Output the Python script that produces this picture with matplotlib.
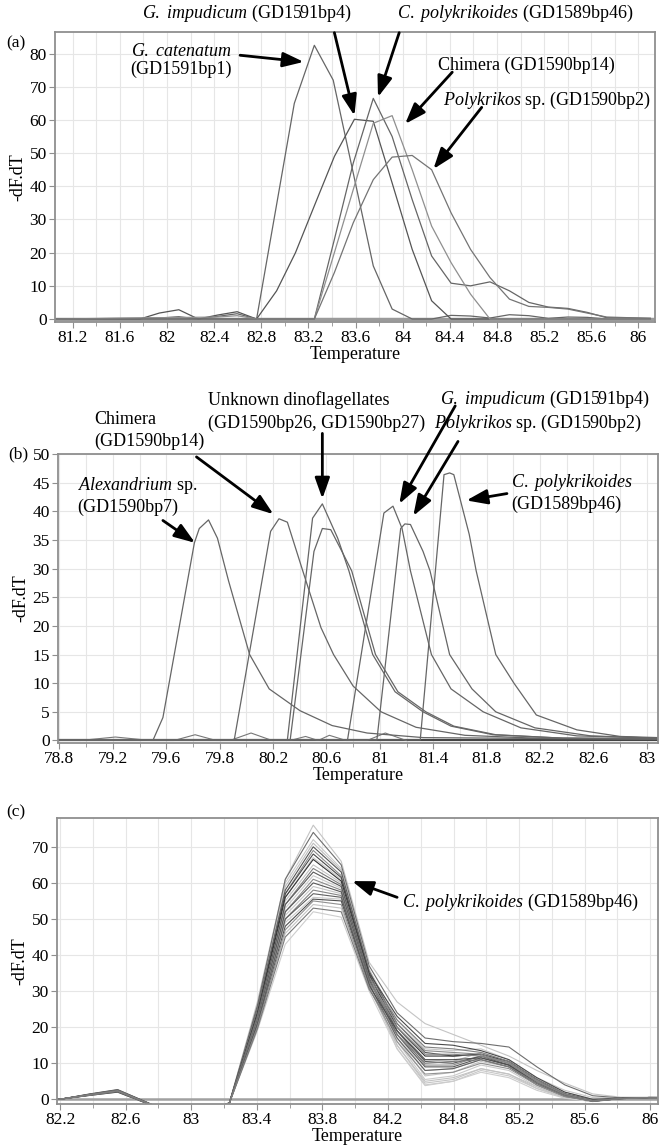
import numpy as np
import matplotlib
matplotlib.use('Agg')
import matplotlib.pyplot as plt

plt.rcParams['font.family'] = ['Liberation Serif', 'DejaVu Serif']
plt.rcParams['mathtext.fontset'] = 'custom'
plt.rcParams['mathtext.rm'] = 'Liberation Serif'
plt.rcParams['mathtext.it'] = 'Liberation Serif:italic'

# ---------------- panel (a) ----------------
a_xlabels = ['81.2', '81.6', '82', '82.4', '82.8', '83.2', '83.6', '84', '84.4', '84.8', '85.2', '85.6', '86']
a_yticks = [0, 10, 20, 30, 40, 50, 60, 70, 80]

a_gcat_t = [81.05, 82.76, 83.08, 83.25, 83.41, 83.58, 83.75, 83.91, 84.08, 84.245, 84.41, 84.575, 84.74, 84.905, 85.07, 85.235, 85.4, 85.565, 85.73, 86.1]
a_gcat_v = [0.1, 0.0, 65.0, 82.5, 72.0, 44.0, 16.0, 3.0, 0.0, 0.0, 1.1, 0.9, 0.3, 1.3, 1.0, 0.2, 0.6, 0.5, 0.0, 0.0]
a_gimp_t = [81.05, 81.77, 81.935, 82.1, 82.265, 82.43, 82.595, 82.76, 82.93, 83.09, 83.26, 83.42, 83.59, 83.75, 83.91, 84.08, 84.245, 84.41, 86.1]
a_gimp_v = [0.1, 0.0, 1.8, 2.8, 0.0, 1.2, 2.2, 0.0, 8.5, 20.0, 35.0, 49.0, 60.2, 59.6, 41.0, 21.0, 5.5, 0.0, 0.0]
a_cpol_t = [81.05, 81.935, 82.1, 82.265, 82.43, 82.595, 82.76, 83.25, 83.42, 83.58, 83.75, 83.91, 84.08, 84.245, 84.41, 84.575, 84.74, 84.905, 85.07, 85.235, 85.4, 85.565, 85.73, 86.1]
a_cpol_v = [0.0, 0.3, 0.7, 0.0, 0.8, 1.6, 0.0, 0.0, 24.0, 47.0, 66.5, 55.0, 36.0, 19.0, 10.8, 10.0, 11.2, 8.5, 5.0, 3.6, 3.2, 2.0, 0.4, 0.2]
a_chim_t = [81.05, 82.43, 82.595, 82.76, 83.25, 83.42, 83.58, 83.75, 83.91, 84.08, 84.245, 84.41, 84.575, 84.74, 86.1]
a_chim_v = [0.0, 0.6, 1.0, 0.0, 0.0, 20.0, 39.0, 59.0, 61.3, 45.0, 28.0, 17.0, 7.5, 0.0, 0.0]
a_poly_t = [81.05, 83.25, 83.42, 83.58, 83.75, 83.91, 84.08, 84.245, 84.41, 84.575, 84.74, 84.905, 85.07, 85.235, 85.4, 85.565, 85.73, 86.1]
a_poly_v = [0.0, 0.0, 14.0, 29.0, 42.0, 48.8, 49.3, 45.0, 32.0, 21.0, 12.5, 6.0, 3.8, 3.5, 3.0, 1.8, 0.6, 0.2]

# ---------------- panel (b) ----------------
b_xlabels = ['78.8', '79.2', '79.6', '79.8', '80.2', '80.6', '81', '81.4', '81.8', '82.2', '82.6', '83']
b_yticks = [0, 5, 10, 15, 20, 25, 30, 35, 40, 45, 50]

b_alex_t = [78.8, 79.47, 79.54, 79.765, 79.80, 79.866, 79.93, 80.01, 80.16, 80.30, 80.52, 80.75, 81.0, 81.4, 83.08]
b_alex_v = [0.1, 0.1, 4.0, 34.5, 37.0, 38.5, 35.3, 27.8, 15.0, 9.0, 5.2, 2.6, 1.3, 0.5, 0.2]
b_chim_t = [78.8, 80.05, 80.31, 80.37, 80.43, 80.54, 80.67, 80.76, 80.90, 81.10, 81.35, 81.70, 82.2, 83.08]
b_chim_v = [0.1, 0.1, 36.5, 38.7, 38.1, 29.6, 19.7, 15.0, 9.5, 5.0, 2.3, 0.9, 0.4, 0.3]
b_unk1_t = [78.8, 80.43, 80.61, 80.68, 80.79, 80.87, 81.04, 81.2, 81.4, 81.6, 81.9, 82.4, 83.08]
b_unk1_v = [0.1, 0.1, 38.8, 41.3, 35.3, 29.6, 15.0, 8.5, 5.0, 2.5, 1.0, 0.4, 0.3]
b_unk2_t = [78.8, 80.45, 80.62, 80.68, 80.74, 80.82, 80.89, 81.06, 81.22, 81.42, 81.62, 81.92, 82.4, 83.08]
b_unk2_v = [0.1, 0.1, 33.0, 37.0, 36.8, 33.0, 29.6, 15.0, 8.5, 5.0, 2.5, 1.0, 0.4, 0.3]
b_gimp_t = [78.8, 80.86, 81.12, 81.185, 81.25, 81.31, 81.46, 81.6, 81.83, 82.1, 82.5, 83.08]
b_gimp_v = [0.1, 0.1, 39.7, 40.9, 37.0, 29.6, 15.0, 9.0, 5.0, 2.2, 0.8, 0.4]
b_poly_t = [78.8, 81.07, 81.24, 81.27, 81.31, 81.40, 81.45, 81.59, 81.75, 81.92, 82.2, 82.6, 83.08]
b_poly_v = [0.1, 0.1, 37.0, 37.8, 37.7, 33.0, 29.6, 15.0, 9.0, 5.0, 2.2, 0.8, 0.4]
b_cpol_t = [78.8, 81.38, 81.55, 81.59, 81.62, 81.73, 81.78, 81.92, 82.05, 82.21, 82.5, 82.81, 83.08]
b_cpol_v = [0.1, 0.1, 46.4, 46.7, 46.4, 36.0, 29.6, 15.0, 10.0, 4.45, 1.85, 0.7, 0.5]
# small bumps on the baseline
b_bump_t = [78.95, 79.2, 79.45, 79.62, 79.77, 79.92, 80.02, 80.17, 80.32, 80.45, 80.56, 80.65, 80.73, 80.85, 81.0, 81.13, 81.28]
b_bump_v = [0.0, 0.6, 0.0, 0.0, 1.0, 0.0, 0.0, 1.3, 0.0, 0.0, 0.7, 0.0, 0.9, 0.0, 0.0, 1.3, 0.0]

# ---------------- panel (c) ----------------
c_xlabels = ['82.2', '82.6', '83', '83.4', '83.8', '84.2', '84.8', '85.2', '85.6', '86']
c_yticks = [0, 10, 20, 30, 40, 50, 60, 70]

c_temps = [82.18, 82.21, 82.39, 82.57, 82.93, 83.11, 83.29, 83.47, 83.65, 83.83, 84.01, 84.19,
           84.37, 84.55, 84.73, 84.91, 85.09, 85.27, 85.45, 85.63, 85.81, 85.99, 86.06]
v8218 = [0.0] * 24
v8221 = [0.1] * 24
v8239 = [1.3, 1.2, 1.4, 1.1, 1.3, 1.2, 1.5, 1.2, 1.3, 1.1, 1.4, 1.2, 1.3, 1.2, 1.4, 1.1, 1.3, 1.2, 1.3, 1.1, 1.2, 1.3, 1.2, 1.1]
v8257 = [2.4, 2.2, 2.6, 2.1, 2.5, 2.3, 2.7, 2.2, 2.4, 2.0, 2.6, 2.3, 2.4, 2.2, 2.5, 2.1, 2.4, 2.3, 2.5, 2.0, 2.3, 2.4, 2.2, 2.1]
v8293 = [-4.0] * 24
v8311 = [-4.0] * 24
v8329 = [-1.0] * 24
v8347 = [27, 26, 26, 25, 25, 24.5, 24, 24, 23.5, 23.5, 23, 23, 22.5, 22.5, 22, 22, 21.5, 21, 21, 20.5, 20, 20, 19.5, 19]
v8365 = [61, 61, 60, 59, 58, 57, 57, 56, 56, 55, 54, 54, 53, 52, 52, 51, 50, 50, 49, 48, 47, 46, 45, 43]
v8383 = [76, 74, 72, 71, 70, 69, 68, 67, 66.5, 65, 64, 63, 62, 61, 60, 59, 58, 57, 56, 55.5, 55, 54, 53, 52]
v8401 = [66, 65, 64, 63.5, 63, 62, 61.5, 61, 60.5, 60, 59.5, 59, 58.5, 58, 57.5, 57, 56.5, 56, 55.5, 55, 54, 53, 52, 50.5]
v8419 = [38, 37, 36, 36, 35.5, 35, 35, 34.5, 34.5, 34, 34, 33.5, 33.5, 33, 33, 32.5, 32.5, 32, 32, 31.5, 31, 31, 30.5, 30]
v8437 = [27, 24, 22, 20, 21, 19, 23, 18, 20, 17, 22, 19, 16, 21, 18, 15, 20, 17, 14, 19, 16, 15, 18, 14]
v8455 = [21, 17, 14, 11, 13, 9.5, 15.5, 8, 12, 6.5, 14.5, 10.5, 5.5, 13.5, 9, 4.5, 12.5, 8, 4, 11, 7, 5, 10, 3.8]
v8473 = [18, 16, 13.5, 10.5, 12, 9.5, 15, 8.5, 12, 7.5, 14, 10, 6.5, 13, 9, 5.5, 12.5, 8.5, 5, 11, 7.5, 6, 10.5, 5]
v8491 = [15, 15.5, 14, 13, 12.5, 12, 13.5, 11, 12.5, 10.5, 13, 12, 9.5, 12.5, 11.5, 8.5, 12, 11, 8, 11.5, 10, 8.5, 11, 7.5]
v8509 = [12, 14.5, 11, 10.5, 10, 10, 11, 9, 10.5, 9, 10.5, 9.5, 8, 10, 9.5, 7, 10, 9, 6.5, 9.5, 8.5, 7, 9, 6]
v8527 = [8, 9, 6, 5.5, 5, 5, 6, 4.5, 5.5, 4, 5.5, 4.5, 3.5, 5, 4.5, 3, 5, 4, 3, 4.5, 4, 3.5, 4.5, 2.5]
v8545 = [4.5, 4, 2.5, 2, 1.5, 1.5, 2, 1, 1.5, 0.8, 1.5, 1, 0.5, 1.2, 1, 0.5, 1.2, 0.8, 0.5, 1, 0.8, 0.5, 1, 0.3]
v8563 = [1.5, 1, 0.5, 0, -0.3, -0.3, 0, -0.5, -0.3, -0.5, -0.3, -0.5, -0.6, -0.4, -0.5, -0.6, -0.4, -0.5, -0.6, -0.5, -0.5, -0.6, -0.5, -0.6]
v8581 = [0.6, 0.4, 0.3, 0.2, 0.2, 0.2, 0.3, 0.2, 0.3, 0.2, 0.3, 0.2, 0.2, 0.2, 0.2, 0.2, 0.2, 0.2, 0.2, 0.2, 0.2, 0.2, 0.2, 0.2]
v8599 = [0.6, 0.5, 0.5, 0.5, 0.5, 0.5, 0.5, 0.5, 0.5, 0.5, 0.5, 0.5, 0.5, 0.5, 0.5, 0.5, 0.5, 0.5, 0.5, 0.5, 0.5, 0.5, 0.5, 0.5]
v8606 = [0.5] * 24

c_columns = [v8218, v8221, v8239, v8257, v8293, v8311, v8329, v8347, v8365, v8383, v8401, v8419,
             v8437, v8455, v8473, v8491, v8509, v8527, v8545, v8563, v8581, v8599, v8606]
c_shades = ['#c4c4c4', '#6e6e6e', '#c8c8c8', '#bdbdbd', '#555555', '#8c8c8c', '#4a4a4a', '#c6c6c6',
            '#333333', '#c2c2c2', '#808080', '#5a5a5a', '#cacaca', '#8a8a8a', '#595959', '#c5c5c5',
            '#858585', '#606060', '#c9c9c9', '#4f4f4f', '#909090', '#c3c3c3', '#7a7a7a', '#cdcdcd']


fig = plt.figure(figsize=(6.67, 11.48), dpi=100)
ax_a = fig.add_axes([0.0825, 0.7198, 0.8995, 0.2523])
ax_b = fig.add_axes([0.087, 0.3530, 0.8995, 0.2515])
ax_c = fig.add_axes([0.0855, 0.0383, 0.901, 0.2492])


def style(ax, labels, first, last, xlim, yticks, ylim):
    ticks = np.linspace(first, last, len(labels))
    step = ticks[1] - ticks[0]
    minor = np.arange(first - step / 2, last + step, step / 2)
    ax.set_xlim(xlim)
    ax.set_ylim(ylim)
    ax.set_xticks(ticks)
    ax.set_xticklabels(labels)
    ax.set_xticks(minor[(minor > xlim[0]) & (minor < xlim[1])], minor=True)
    ax.set_yticks(yticks)
    ax.grid(which='both', axis='x', color='#e6e6e6', lw=0.8)
    ax.grid(which='major', axis='y', color='#e6e6e6', lw=0.8)
    ax.set_axisbelow(True)
    for s in ax.spines.values():
        s.set_color('#8f8f8f')
        s.set_linewidth(1.3)
    ax.tick_params(which='both', direction='out', length=4, color='#8f8f8f', labelsize=12.5, pad=2)
    ax.tick_params(which='minor', length=3)
    ax.set_xlabel('Temperature', fontsize=13, labelpad=0)
    ax.set_ylabel('-dF.dT', fontsize=13, labelpad=2)


def arrow(ax, tail, tip):
    ax.annotate('', xy=tip, xytext=tail, annotation_clip=False,
                arrowprops=dict(arrowstyle='-|>,head_length=0.9,head_width=0.32', color='black',
                                lw=2.0, shrinkA=0, shrinkB=0, mutation_scale=14))


def label(ax, x, y, s, ha='left'):
    ax.text(x, y, s, fontsize=13, ha=ha, va='center', clip_on=False)


# panel a
style(ax_a, a_xlabels, 81.2, 86.0, (81.05, 86.14), a_yticks, (-0.8, 86.5))
ax_a.axhline(0, color='#9a9a9a', lw=2.5, zorder=1)
for t, v, c in [(a_gcat_t, a_gcat_v, '#666666'), (a_gimp_t, a_gimp_v, '#555555'),
                (a_cpol_t, a_cpol_v, '#666666'), (a_chim_t, a_chim_v, '#8f8f8f'),
                (a_poly_t, a_poly_v, '#747474')]:
    ax_a.plot(t, v, color=c, lw=0.9)
label(ax_a, 82.68, 92.0, r'$\mathit{G.}$ $\mathit{impudicum}$ (GD1591bp4)', ha='center')
label(ax_a, 84.95, 92.0, r'$\mathit{C.}$ $\mathit{polykrikoides}$ (GD1589bp46)', ha='center')
label(ax_a, 82.12, 80.5, r'$\mathit{G.}$ $\mathit{catenatum}$', ha='center')
label(ax_a, 82.12, 75.2, '(GD1591bp1)', ha='center')
label(ax_a, 85.05, 76.5, 'Chimera (GD1590bp14)', ha='center')
label(ax_a, 85.22, 66.0, r'$\mathit{Polykrikos}$ sp. (GD1590bp2)', ha='center')
arrow(ax_a, (83.42, 86.3), (83.59, 61.3))
arrow(ax_a, (83.97, 86.3), (83.79, 66.9))
arrow(ax_a, (82.62, 79.5), (83.16, 77.5))
arrow(ax_a, (84.42, 74.4), (84.02, 58.8))
arrow(ax_a, (84.67, 63.8), (84.26, 45.2))

# panel b
style(ax_b, b_xlabels, 78.8, 83.0, (78.79, 83.08), b_yticks, (-0.4, 50))
ax_b.plot(b_bump_t, b_bump_v, color='#777777', lw=0.8)
ax_b.axhline(0.1, color='#444444', lw=1.6, zorder=1)
for t, v in [(b_alex_t, b_alex_v), (b_chim_t, b_chim_v), (b_unk1_t, b_unk1_v), (b_unk2_t, b_unk2_v),
             (b_gimp_t, b_gimp_v), (b_poly_t, b_poly_v), (b_cpol_t, b_cpol_v)]:
    ax_b.plot(t, v, color='#666666', lw=0.9)
label(ax_b, 79.86, 59.5, 'Unknown dinoflagellates')
label(ax_b, 79.86, 55.4, '(GD1590bp26, GD1590bp27)')
label(ax_b, 79.05, 56.1, 'Chimera')
label(ax_b, 79.05, 52.2, '(GD1590bp14)')
label(ax_b, 81.52, 59.5, r'$\mathit{G.}$ $\mathit{impudicum}$ (GD1591bp4)')
label(ax_b, 81.48, 55.4, r'$\mathit{Polykrikos}$ sp. (GD1590bp2)')
label(ax_b, 78.93, 44.5, r'$\mathit{Alexandrium}$ sp.')
label(ax_b, 78.93, 40.7, '(GD1590bp7)')
label(ax_b, 82.03, 45.1, r'$\mathit{C.}$ $\mathit{polykrikoides}$')
label(ax_b, 82.03, 41.3, '(GD1589bp46)')
arrow(ax_b, (80.68, 53.6), (80.68, 42.2))
arrow(ax_b, (79.78, 49.5), (80.33, 39.5))
arrow(ax_b, (81.63, 58.4), (81.23, 41.3))
arrow(ax_b, (81.65, 52.2), (81.33, 39.2))
arrow(ax_b, (79.54, 38.4), (79.77, 34.5))
arrow(ax_b, (82.0, 43.1), (81.71, 41.9))

# panel c
style(ax_c, c_xlabels, 82.2, 86.0, (82.18, 86.05), c_yticks, (-1.3, 78))
ax_c.axhline(0, color='#a0a0a0', lw=1.8, zorder=1)
c_values = np.array(c_columns).T
order = np.argsort([0 if s > '#a' else 1 for s in c_shades], kind='stable')
for i in order:
    ax_c.plot(c_temps, c_values[i], color=c_shades[i], lw=0.8)
label(ax_c, 84.4, 54.5, r'$\mathit{C.}$ $\mathit{polykrikoides}$ (GD1589bp46)')
arrow(ax_c, (84.37, 56.0), (84.08, 60.5))

fig.text(0.010, 0.9625, '(a)', fontsize=12.5, va='center')
fig.text(0.013, 0.6045, '(b)', fontsize=12.5, va='center')
fig.text(0.010, 0.292, '(c)', fontsize=12.5, va='center')

fig.savefig('out.png', dpi=100)
